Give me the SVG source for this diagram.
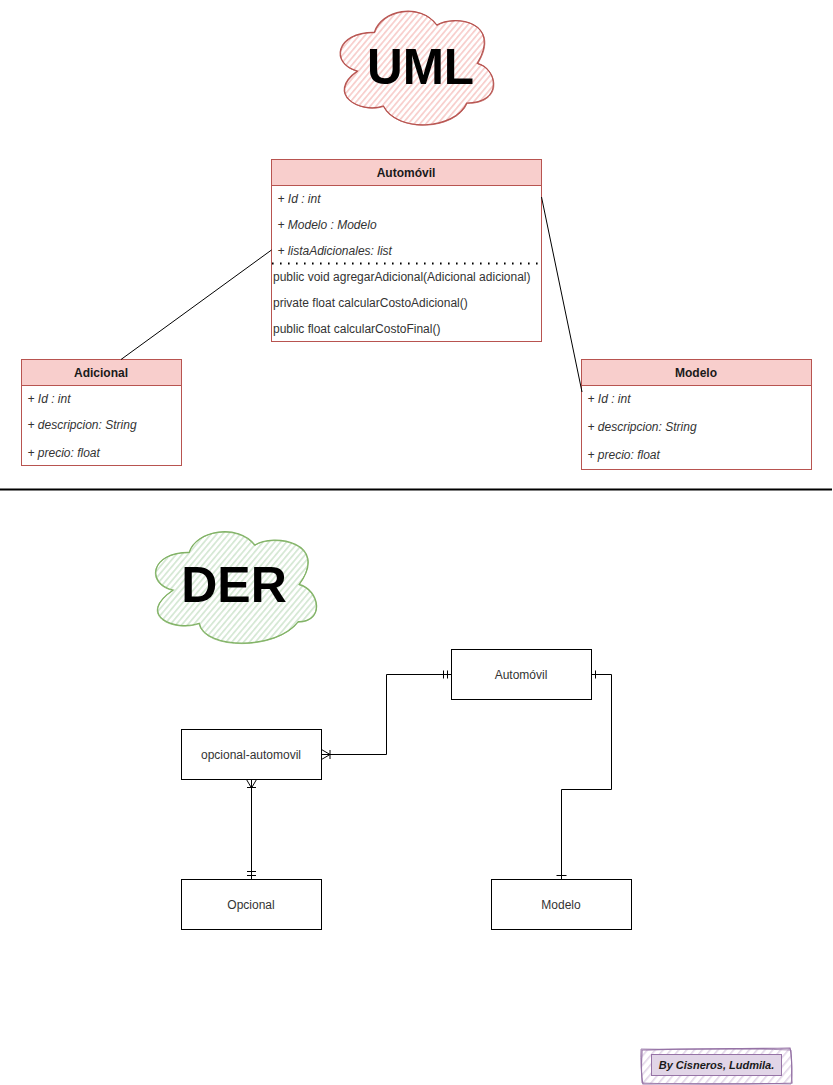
<svg xmlns="http://www.w3.org/2000/svg" width="833" height="1085" viewBox="0 0 833 1085">
<style>
text{font-family:"Liberation Sans",Arial,sans-serif;font-size:12px;fill:#333;dominant-baseline:central}
.c{text-anchor:middle}
.b{font-weight:bold;fill:#1a1a1a}
.i{font-style:italic}
.box{fill:#fff;stroke:#b85450;stroke-width:1}
.head{fill:#f8cecc;stroke:#b85450;stroke-width:1}
.er{fill:#fff;stroke:#000;stroke-width:1}
.ln{fill:none;stroke:#000;stroke-width:1}
.title{font-size:49.5px;font-weight:bold;fill:#000}
</style>
<defs>
<pattern id="hr" width="4.5" height="4.5" patternUnits="userSpaceOnUse" patternTransform="rotate(-50)"><rect width="4.5" height="4.5" fill="#fff"/><rect width="4.5" height="1.7" fill="#f8cecc"/></pattern>
<pattern id="hg" width="4.5" height="4.5" patternUnits="userSpaceOnUse" patternTransform="rotate(-50)"><rect width="4.5" height="4.5" fill="#fff"/><rect width="4.5" height="1.7" fill="#d5e8d4"/></pattern>
<pattern id="hp" width="6" height="6" patternUnits="userSpaceOnUse" patternTransform="rotate(-50)"><rect width="6" height="6" fill="#fff"/><rect width="6" height="1.6" fill="#e1d5e7"/></pattern>
<path id="cu" d="M374.3 32.3C381 10 420 2 436.7 25C455 14 502 22 477.3 63.3C497 68 504 103 466.7 103C455 130 397 133 383.3 106C360 114 325 94 357.3 71C330 64 335 32 374.3 32.3Z"/>
<path id="cd" d="M189.3 552.3C196 530 238 523 255 545C273 533 330 542 299.3 584.3C320 590 325 622 298.3 621.7C277 650 205 650 199.3 623.3C174 632 136 615 173.3 590C146 584 150 552 189.3 552.3Z"/>
</defs>
<g id="cloud-uml">
<use href="#cu" fill="url(#hr)" stroke="#b85450" stroke-width="1.2"/>
<use href="#cu" fill="none" stroke="#b85450" stroke-width="0.8" transform="translate(0.5 0.4)"/>
<text class="title c" x="420.5" y="66">UML</text>
</g>
<g id="automovil-uml">
<rect class="box" x="271.5" y="159.5" width="270" height="182"/>
<rect class="head" x="271.5" y="159.5" width="270" height="26"/>
<text class="c b" x="406" y="172.5">Automóvil</text>
<text class="i" x="277.5" y="198.5">+ Id : int</text>
<text class="i" x="277.5" y="224.5">+ Modelo : Modelo</text>
<text class="i" x="277.5" y="250.5">+ listaAdicionales: list</text>
<line x1="272" y1="263.5" x2="541" y2="263.5" stroke="#000" stroke-width="2" stroke-dasharray="1.6 6.4"/>
<text x="273" y="276.5">public void agregarAdicional(Adicional adicional)</text>
<text x="273" y="302.5">private float calcularCostoAdicional()</text>
<text x="273" y="328.5">public float calcularCostoFinal()</text>
</g>
<g id="adicional-uml">
<rect class="box" x="21.5" y="359.5" width="160" height="106"/>
<rect class="head" x="21.5" y="359.5" width="160" height="26"/>
<text class="c b" x="101" y="372.5">Adicional</text>
<text class="i" x="27.5" y="398.5">+ Id : int</text>
<text class="i" x="27.5" y="424.5">+ descripcion: String</text>
<text class="i" x="27.5" y="452.5">+ precio: float</text>
</g>
<g id="modelo-uml">
<rect class="box" x="581.5" y="359.5" width="230" height="110"/>
<rect class="head" x="581.5" y="359.5" width="230" height="26"/>
<text class="c b" x="696" y="372.5">Modelo</text>
<text class="i" x="587.5" y="398.5">+ Id : int</text>
<text class="i" x="587.5" y="426.5">+ descripcion: String</text>
<text class="i" x="587.5" y="454.5">+ precio: float</text>
</g>
<g id="divider"><line x1="0" y1="489.5" x2="832" y2="489.5" stroke="#000" stroke-width="2"/></g>
<g id="cloud-der">
<use href="#cd" fill="url(#hg)" stroke="#82b366" stroke-width="1.2"/>
<use href="#cd" fill="none" stroke="#82b366" stroke-width="0.8" transform="translate(-0.4 0.5)"/>
<text class="title c" x="234" y="585" style="font-size:50px">DER</text>
</g>
<g id="automovil-der"><rect class="er" x="451.5" y="649.5" width="140" height="50"/><text class="c" x="521" y="675">Automóvil</text></g>
<g id="opcional-automovil"><rect class="er" x="181.5" y="729.5" width="140" height="50"/><text class="c" x="251" y="755">opcional-automovil</text></g>
<g id="opcional"><rect class="er" x="181.5" y="879.5" width="140" height="50"/><text class="c" x="251" y="905">Opcional</text></g>
<g id="modelo-der"><rect class="er" x="491.5" y="879.5" width="140" height="50"/><text class="c" x="561" y="905">Modelo</text></g>
<g id="connectors">
<path class="ln" d="M271.5 250L121 359.5"/>
<path class="ln" d="M541.5 197L582 392"/>
<path class="ln" d="M451.5 674.5H386.5V754.5H321.5"/>
<path class="ln" d="M443.5 670.5V678.5M447.5 670.5V678.5"/>
<path class="ln" d="M321.5 749.5L330 754.5L321.5 759.5M330 750V759"/>
<path class="ln" d="M251.5 779.5V879.5"/>
<path class="ln" d="M246.5 779.5L251.5 788L256.5 779.5M247 787.5H256"/>
<path class="ln" d="M247 871.5H256M247 875.5H256"/>
<path class="ln" d="M591.5 674.5H611.5V789.5H561.5V879.5"/>
<path class="ln" d="M595.5 670.5V678.5M556.5 875.5H566.5"/>
</g>
<g id="credit">
<path d="M642 1050C690 1048 745 1049 790 1048C793 1060 791 1072 792 1083C745 1085 690 1083 643 1084C640 1072 642 1060 642 1050Z" fill="url(#hp)" stroke="#9673a6" stroke-width="1.2"/>
<path d="M641 1049C690 1050 745 1048 791 1050C791 1060 793 1072 791 1084C745 1083 690 1085 642 1083C642 1072 640 1060 641 1049Z" fill="none" stroke="#9673a6" stroke-width="0.8"/>
<rect x="651.5" y="1054.5" width="130" height="21" fill="#e1d5e7" stroke="#9673a6"/>
<text class="c b i" style="font-size:11px" x="716.5" y="1065">By Cisneros, Ludmila.</text>
</g>
</svg>
